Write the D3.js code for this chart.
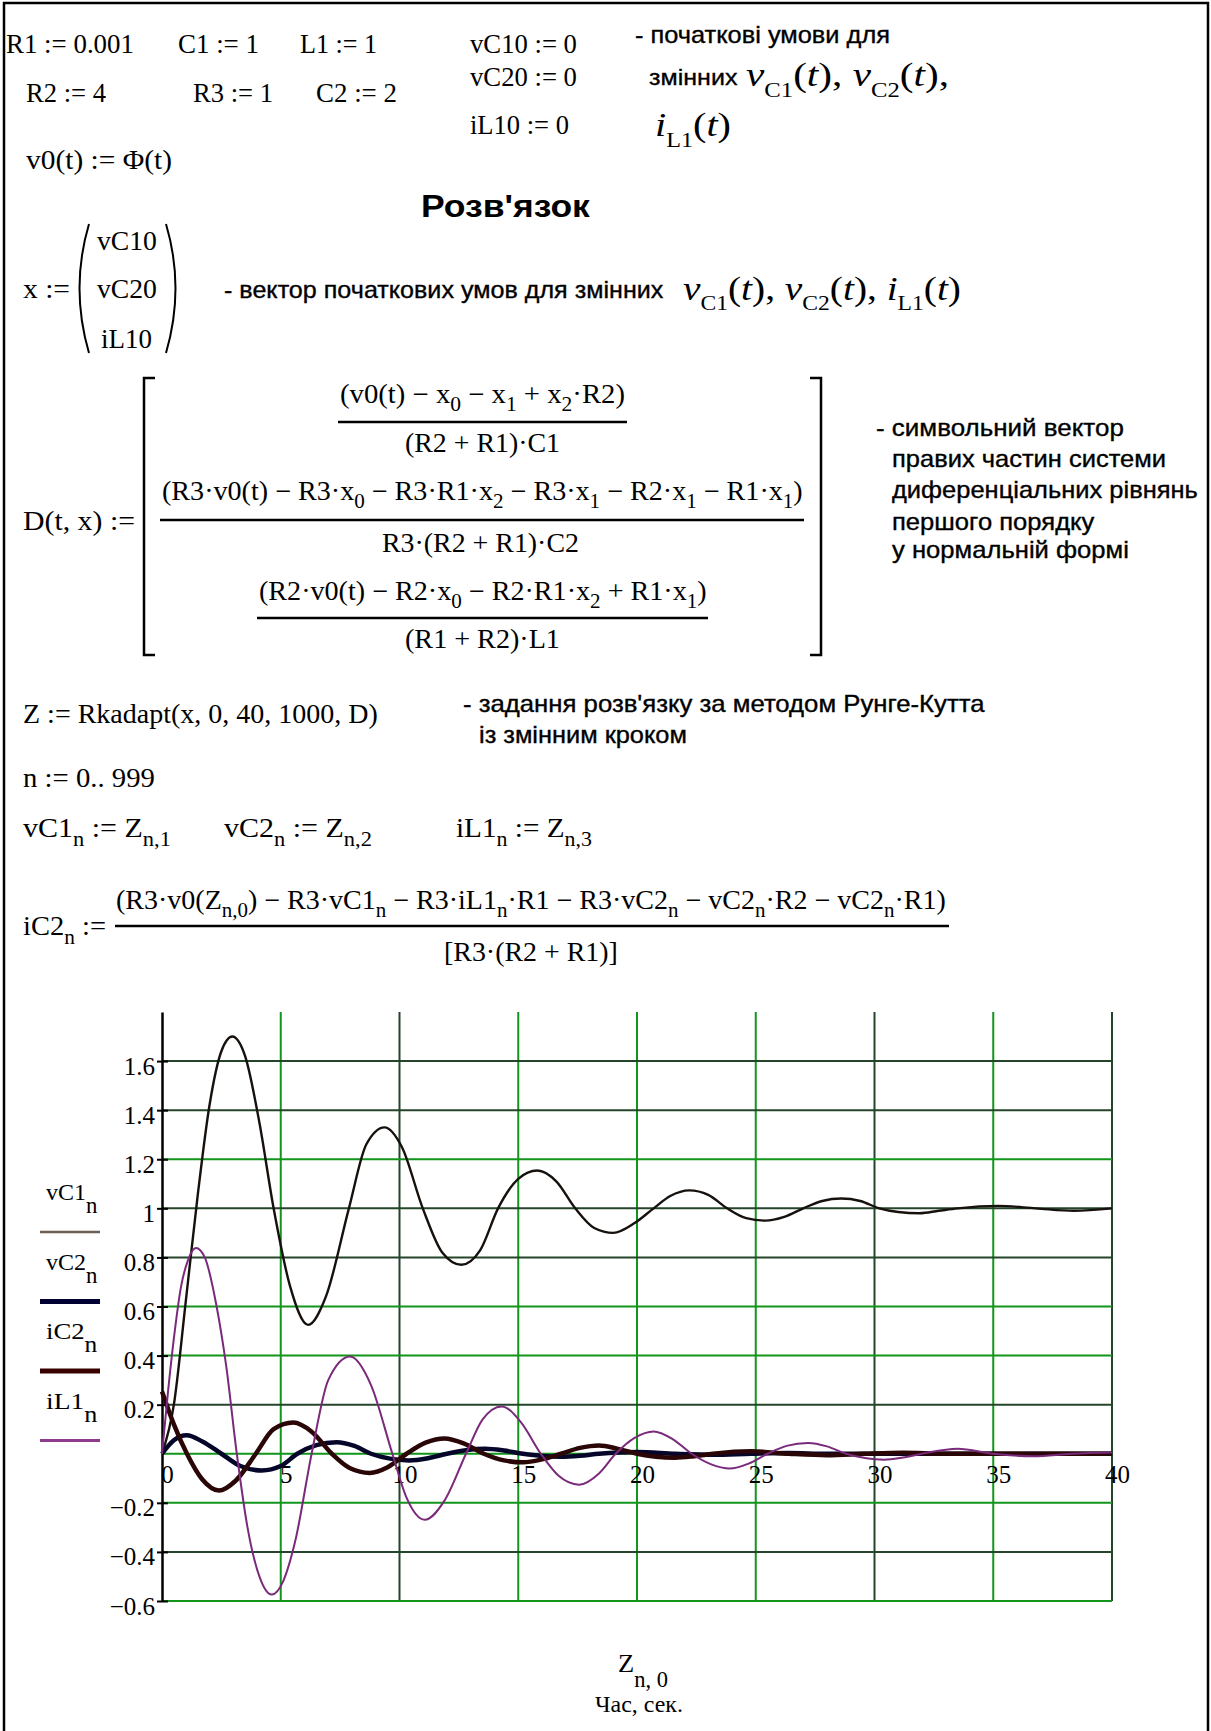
<!DOCTYPE html>
<html>
<head>
<meta charset="utf-8">
<script src="https://cdn.jsdelivr.net/npm/d3@7"></script>
<style>
  body { margin: 0; background: #fff; }
  svg text { fill: #000; white-space: pre; }
</style>
</head>
<body>
<svg id="sheet" width="1211" height="1731"></svg>
<script>
// ---- chart data ----
const xTickValues = [0, 5, 10, 15, 20, 25, 30, 35, 40];
const yTickValues = [-0.6, -0.4, -0.2, 0.2, 0.4, 0.6, 0.8, 1, 1.2, 1.4, 1.6];
const gridXValues = [5, 10, 15, 20, 25, 30, 35, 40];
const gridYValues = [-0.6, -0.4, -0.2, 0, 0.2, 0.4, 0.6, 0.8, 1, 1.2, 1.4, 1.6];

// [t, value]
const vC1 = [[0,0],[0.5,0.2],[1,0.62],[1.5,1.05],[2,1.42],[2.5,1.64],[2.96,1.7],[3.5,1.62],[4.1,1.35],
  [4.7,1],[5.4,0.68],[6.15,0.525],[6.9,0.64],[7.87,1],[8.6,1.26],[9.37,1.33],[10.1,1.25],[10.98,1],
  [11.8,0.82],[12.6,0.77],[13.4,0.83],[14.15,1],[15,1.12],[15.8,1.154],[16.6,1.11],[17.4,1],[18.2,0.92],
  [19,0.9],[19.9,0.94],[20.7,1],[21.4,1.05],[22.2,1.073],[23,1.055],[23.8,1],[24.6,0.96],[25.4,0.95],
  [26.2,0.965],[27,1],[27.8,1.03],[28.6,1.04],[29.4,1.03],[30.2,1],[31,0.985],[31.9,0.98],[32.7,0.99],
  [33.5,1],[35.2,1.01],[36.8,1],[38.4,0.99],[40,1]];
const vC2 = [[0,0],[0.5,0.055],[1.04,0.075],[1.7,0.05],[2.5,0],[3.3,-0.05],[4.2,-0.068],[5,-0.05],[5.7,0],
  [6.5,0.035],[7.35,0.047],[8.1,0.032],[8.8,0],[9.6,-0.02],[10.4,-0.027],[11.2,-0.018],[12,0],[12.8,0.014],
  [13.6,0.02],[14.4,0.013],[15.2,0],[16,-0.009],[16.8,-0.012],[17.6,-0.008],[18.4,0],[20,0.007],[21.6,0],
  [23.2,-0.004],[24.8,0],[26.4,0.003],[28,0],[40,0]];
const iC2 = [[0,0.254],[0.5,0.12],[1.05,0],[1.7,-0.105],[2.4,-0.15],[3.1,-0.11],[3.95,0],[4.7,0.1],
  [5.53,0.127],[6.3,0.09],[7.15,0],[7.9,-0.058],[8.75,-0.078],[9.5,-0.055],[10.3,0],[11.1,0.045],
  [11.9,0.062],[12.7,0.042],[13.55,0],[14.4,-0.027],[15.2,-0.035],[16,-0.023],[16.8,0],[17.6,0.024],
  [18.4,0.034],[19.2,0.02],[20,0],[20.8,-0.012],[21.6,-0.016],[22.4,-0.01],[23.2,0],[24.8,0.01],[26.4,0],
  [28,-0.006],[29.6,0],[31.2,0.004],[33,0],[40,0]];
const iL1 = [[0,0],[0.25,0.25],[0.5,0.47],[0.8,0.68],[1.1,0.79],[1.43,0.838],[1.8,0.8],[2.3,0.6],[2.7,0.36],
  [3.15,0],[3.6,-0.3],[4.1,-0.5],[4.62,-0.574],[5.1,-0.52],[5.6,-0.36],[6.3,0],[7,0.3],[7.92,0.396],
  [8.8,0.28],[9.7,0],[10.3,-0.18],[11.06,-0.269],[11.9,-0.19],[12.8,0],[13.5,0.14],[14.3,0.193],
  [15.1,0.13],[15.95,0],[16.7,-0.09],[17.56,-0.126],[18.4,-0.08],[19.1,0],[19.9,0.065],[20.7,0.091],
  [21.5,0.06],[22.3,0],[23.1,-0.042],[23.9,-0.06],[24.7,-0.04],[25.5,0],[26.3,0.032],[27.2,0.044],
  [28,0.03],[28.8,0],[29.6,-0.017],[30.4,-0.024],[31.2,-0.015],[32,0],[33.5,0.02],[35,0],[36.7,-0.01],
  [38.3,0],[40,0.005]];

const seriesNames = ["vC1", "vC2", "iC2", "iL1"];
const seriesData = [vC1, vC2, iC2, iL1];

// ---- styles ----
const SERIF = "'Liberation Serif', 'Times New Roman', serif";
const SANS = "'Liberation Sans', Arial, sans-serif";
const lineColors = ["#17110d", "#06062a", "#2a0606", "#7a2a7a"];
const lineWidths = [2.4, 4.5, 4.5, 2];
const legendColors = ["#6e5e52", "#000033", "#3a0000", "#8e3a8e"];
const legendWidths = [2.5, 5, 5, 3];
const GREEN = "#12951a", DARK = "#25452a";
const darkX = [10, 30, 40], darkY = [1.6, 1.4, 1, 0.8, 0.2, -0.4];

const svg = d3.select("#sheet");

// text with _{sub} and *italic* parts, squeezed to a width if given
function mtext(str, x, y, o) {
  o = Object.assign({ size: 28, font: SERIF, w: null, weight: "normal", subOff: null, subScale: 0.75, bold: 0 }, o || {});
  const t = svg.append("text")
    .attr("font-family", o.font).attr("font-size", o.size).attr("font-weight", o.weight);
  if (o.bold) t.attr("stroke", "#000").attr("stroke-width", o.bold);
  const off = o.subOff != null ? o.subOff : o.size * 0.3;
  const re = /_\{([^}]*)\}|\*([^*]*)\*|([^_*]+)/g;
  let m, shift = 0;
  while ((m = re.exec(str))) {
    const span = t.append("tspan");
    let target = 0;
    if (m[1] !== undefined) {
      span.text(m[1]).attr("font-size", o.size * o.subScale);
      target = off;
    } else if (m[2] !== undefined) {
      span.text(m[2]).attr("font-style", "italic");
    } else {
      span.text(m[3]);
    }
    if (target !== shift) { span.attr("dy", target - shift); shift = target; }
  }
  let sx = 1;
  if (o.w) {
    const bw = t.node().getBBox().width;
    if (bw > 0) sx = o.w / bw;
  }
  t.attr("transform", `translate(${x},${y}) scale(${sx},1)`);
  return t;
}

function bar(x1, x2, yy) {
  svg.append("line").attr("x1", x1).attr("x2", x2).attr("y1", yy).attr("y2", yy)
    .attr("stroke", "#000").attr("stroke-width", 2.5);
}

// frame
svg.append("path").attr("d", "M4,1731V3H1208V1731").attr("fill", "none")
  .attr("stroke", "#000").attr("stroke-width", 2.5);

// ---- worksheet text ----
mtext("R1 := 0.001", 6, 53, { w: 128 });
mtext("C1 := 1", 178, 53, { w: 81 });
mtext("L1 := 1", 300, 53, { w: 77 });
mtext("vC10 := 0", 470, 53, { w: 107 });
mtext("vC20 := 0", 470, 86, { w: 107 });
mtext("R2 := 4", 26, 102, { w: 80 });
mtext("R3 := 1", 193, 102, { w: 80 });
mtext("C2 := 2", 316, 102, { w: 81 });
mtext("iL10 := 0", 470, 134, { w: 99 });
mtext("v0(t) := Φ(t)", 26, 169, { w: 146 });

const annot = { font: SANS, size: 23, bold: 0.35 };
mtext("- початкові умови для", 635, 43, Object.assign({ w: 255 }, annot));
mtext("змінних", 649, 85, Object.assign({ w: 89 }, annot));
mtext("*v*_{C1}(*t*), *v*_{C2}(*t*),", 746, 86, { size: 34, w: 203, subOff: 11, subScale: 0.6 });
mtext("*i*_{L1}(*t*)", 655, 136, { size: 34, w: 76, subOff: 11, subScale: 0.6 });

mtext("Розв'язок", 421, 217, { font: SANS, size: 32, weight: "bold", w: 170 });

mtext("x :=", 23, 298, { w: 47 });
mtext("vC10", 97, 250, { w: 60 });
mtext("vC20", 97, 298, { w: 60 });
mtext("iL10", 101, 348, { w: 51 });
svg.append("path").attr("d", "M89,224Q70,288 89,353").attr("fill", "none").attr("stroke", "#000").attr("stroke-width", 2);
svg.append("path").attr("d", "M166,224Q185,288 166,353").attr("fill", "none").attr("stroke", "#000").attr("stroke-width", 2);
mtext("- вектор початкових умов для змінних", 224, 298, Object.assign({ w: 440 }, annot));
mtext("*v*_{C1}(*t*), *v*_{C2}(*t*), *i*_{L1}(*t*)", 683, 300, { size: 34, w: 278, subOff: 10, subScale: 0.6 });

// D(t,x)
mtext("D(t, x) :=", 23, 530, { w: 112 });
svg.append("path").attr("d", "M155,378H144V655H155").attr("fill", "none").attr("stroke", "#000").attr("stroke-width", 2.5);
svg.append("path").attr("d", "M810,378H821V655H810").attr("fill", "none").attr("stroke", "#000").attr("stroke-width", 2.5);
const fr = { size: 27, subOff: 8 };
mtext("(v0(t) − x_{0} − x_{1} + x_{2}·R2)", 340, 403, Object.assign({ w: 285 }, fr));
bar(338, 627, 422);
mtext("(R2 + R1)·C1", 405, 452, Object.assign({ w: 155 }, fr));
mtext("(R3·v0(t) − R3·x_{0} − R3·R1·x_{2} − R3·x_{1} − R2·x_{1} − R1·x_{1})", 162, 500, Object.assign({ w: 641 }, fr));
bar(160, 804, 520);
mtext("R3·(R2 + R1)·C2", 382, 552, Object.assign({ w: 197 }, fr));
mtext("(R2·v0(t) − R2·x_{0} − R2·R1·x_{2} + R1·x_{1})", 259, 600, Object.assign({ w: 448 }, fr));
bar(257, 708, 618);
mtext("(R1 + R2)·L1", 405, 648, Object.assign({ w: 155 }, fr));

mtext("- символьний вектор", 876, 436, Object.assign({ w: 248 }, annot));
mtext("правих частин системи", 892, 467, Object.assign({ w: 274 }, annot));
mtext("диференціальних рівнянь", 892, 498, Object.assign({ w: 306 }, annot));
mtext("першого порядку", 892, 530, Object.assign({ w: 203 }, annot));
mtext("у нормальній формі", 892, 558, Object.assign({ w: 237 }, annot));

mtext("Z := Rkadapt(x, 0, 40, 1000, D)", 23, 723, { w: 355 });
mtext("- задання розв'язку за методом Рунге-Кутта", 463, 712, Object.assign({ w: 522 }, annot));
mtext("із змінним кроком", 479, 743, Object.assign({ w: 208 }, annot));
mtext("n := 0.. 999", 23, 787, { w: 132 });
mtext("vC1_{n} := Z_{n,1}", 23, 837, { w: 148, subOff: 9 });
mtext("vC2_{n} := Z_{n,2}", 224, 837, { w: 148, subOff: 9 });
mtext("iL1_{n} := Z_{n,3}", 456, 837, { w: 136, subOff: 9 });
mtext("iC2_{n} :=", 23, 935, { w: 83, subOff: 9 });
mtext("(R3·v0(Z_{n,0}) − R3·vC1_{n} − R3·iL1_{n}·R1 − R3·vC2_{n} − vC2_{n}·R2 − vC2_{n}·R1)", 116, 909, Object.assign({ w: 830 }, fr));
bar(115, 949, 926);
mtext("[R3·(R2 + R1)]", 444, 961, Object.assign({ w: 174 }, fr));

// ---- the plot ----
const x = d3.scaleLinear().domain([0, 40]).range([162, 1112]);
const y = d3.scaleLinear().domain([-0.6, 1.8]).range([1601, 1012]);
const plot = svg.append("g");

plot.selectAll(".gx").data(gridXValues).join("line").attr("class", "gx")
  .attr("x1", d => x(d)).attr("x2", d => x(d))
  .attr("y1", y(1.8)).attr("y2", y(-0.6))
  .attr("stroke", d => darkX.includes(d) ? DARK : GREEN).attr("stroke-width", 2);

plot.selectAll(".gy").data(gridYValues).join("line").attr("class", "gy")
  .attr("x1", x(0)).attr("x2", x(40))
  .attr("y1", d => y(d)).attr("y2", d => y(d))
  .attr("stroke", d => darkY.includes(d) ? DARK : GREEN).attr("stroke-width", 2);

const yAxis = plot.append("g").attr("transform", `translate(${x(0)},0)`)
  .call(d3.axisLeft(y).tickValues(yTickValues).tickSizeInner(4).tickSizeOuter(0)
    .tickFormat(d3.format("~g")));
yAxis.select(".domain").attr("stroke", "#000").attr("stroke-width", 2.5);
yAxis.selectAll(".tick line").attr("x1", -5).attr("x2", 6).attr("stroke", "#000").attr("stroke-width", 2);
yAxis.selectAll(".tick text").attr("font-family", SERIF).attr("font-size", 25)
  .attr("x", -7).attr("dy", "0.52em").attr("fill", "#000");

const xAxis = plot.append("g").attr("transform", `translate(0,${y(0)})`)
  .call(d3.axisBottom(x).tickValues(xTickValues).tickSize(0).tickPadding(11));
xAxis.select(".domain").remove();
xAxis.selectAll(".tick text").attr("font-family", SERIF).attr("font-size", 25)
  .attr("dx", 5).attr("fill", "#000");

const line = d3.line().x(d => x(d[0])).y(d => y(d[1])).curve(d3.curveMonotoneX);
plot.selectAll(".trace").data(seriesData).join("path").attr("class", "trace")
  .attr("d", line).attr("fill", "none")
  .attr("stroke", (d, i) => lineColors[i]).attr("stroke-width", (d, i) => lineWidths[i])
  .attr("stroke-linejoin", "round");

// legend on the left side of the plot
seriesNames.forEach((name, i) => {
  const base = 1200 + i * 69.5;
  mtext(name + "_{n}", 46, base, { size: 24, w: 52, subOff: 13, subScale: 0.95 });
  svg.append("line").attr("x1", 40).attr("x2", 100)
    .attr("y1", base + 32).attr("y2", base + 32)
    .attr("stroke", legendColors[i]).attr("stroke-width", legendWidths[i]);
});

// axis title
mtext("Z_{n, 0}", 618, 1672, { size: 26, w: 50, subOff: 15, subScale: 0.85 });
mtext("Час, сек.", 595, 1712, { size: 24, w: 88 });
</script>
</body>
</html>
